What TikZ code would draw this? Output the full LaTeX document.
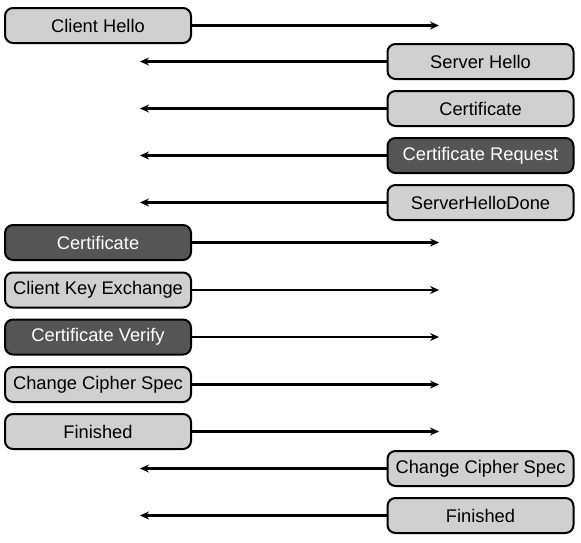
\documentclass[tikz,border=0pt]{standalone}
\usepackage{fontspec}
\setmainfont{Liberation Sans}
\usetikzlibrary{arrows.meta}
\definecolor{lightbox}{HTML}{D0D0D0}
\definecolor{darkbox}{HTML}{555555}
\tikzset{
  msg/.style={draw=black, line width=2pt, rounded corners=8pt, minimum width=186pt, minimum height=35pt, inner sep=0pt, font=\fontsize{18.3}{21}\selectfont},
  lightmsg/.style={msg, fill=lightbox, text=black},
  darkmsg/.style={msg, fill=darkbox, text=white},
  arr/.style={line width=2.3pt, -{Stealth[length=9pt, width=8pt, inset=3pt]}}
}
\begin{document}
\begin{tikzpicture}[x=1pt, y=-1pt]
\useasboundingbox (0,0) rectangle (581,542);
% left (client) messages
\node[lightmsg] (c1) at (98,25.5) {Client Hello};
\node[darkmsg]  (c2) at (98,242.5) {Certificate};
\node[lightmsg] (c3) at (98,290) {Client Key Exchange};
\node[darkmsg]  (c4) at (98,337) {Certificate Verify};
\node[lightmsg] (c5) at (98,384.5) {Change Cipher Spec};
\node[lightmsg] (c6) at (98,431.5) {Finished};
% right (server) messages
\node[lightmsg] (s1) at (480.5,61.5) {Server Hello};
\node[lightmsg] (s2) at (480.5,108.5) {Certificate};
\node[darkmsg]  (s3) at (480.5,155.5) {Certificate Request};
\node[lightmsg] (s4) at (480.5,202.5) {ServerHelloDone};
\node[lightmsg] (s5) at (480.5,468.5) {Change Cipher Spec};
\node[lightmsg] (s6) at (480.5,515.5) {Finished};
% arrow ends
\coordinate (e1) at (439,25.5);
\coordinate (e2) at (439,242.5);
\coordinate (e3) at (439,290);
\coordinate (e4) at (439,337);
\coordinate (e5) at (439,384.5);
\coordinate (e6) at (439,431.5);
\coordinate (f1) at (140,61.5);
\coordinate (f2) at (140,108.5);
\coordinate (f3) at (140,155.5);
\coordinate (f4) at (140,202.5);
\coordinate (f5) at (140,468.5);
\coordinate (f6) at (140,515.5);
\foreach \i in {1,...,6} {
  \draw[arr] (c\i.east) -- (e\i);
  \draw[arr] (s\i.west) -- (f\i);
}
\end{tikzpicture}
\end{document}
